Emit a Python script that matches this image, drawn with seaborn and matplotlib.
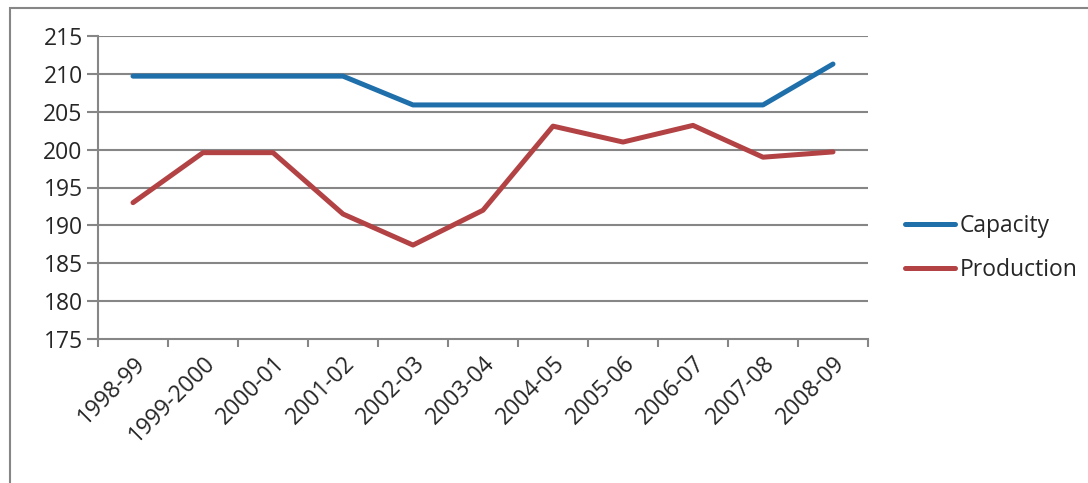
import matplotlib
matplotlib.use("Agg")

import matplotlib.pyplot as plt
import pandas as pd
import seaborn as sns
from matplotlib.patches import Rectangle

years = [
    "1998-99", "1999-2000", "2000-01", "2001-02", "2002-03", "2003-04",
    "2004-05", "2005-06", "2006-07", "2007-08", "2008-09",
]
capacity = [209.7, 209.7, 209.7, 209.7, 205.9, 205.9, 205.9, 205.9, 205.9, 205.9, 211.3]
production = [193.0, 199.6, 199.6, 191.5, 187.4, 192.0, 203.1, 201.0, 203.2, 199.0, 199.7]
y_ticks = [175, 180, 185, 190, 195, 200, 205, 210, 215]

GRID = "#868686"
COLORS = {"Capacity": "#1f6fab", "Production": "#b24244"}


def main() -> None:
    sns.set_theme(style="white")
    plt.rcParams["font.family"] = ["Open Sans", "DejaVu Sans"]

    df = pd.DataFrame({"year": years, "Capacity": capacity, "Production": production})
    df["pos"] = range(len(years))
    long = df.melt(id_vars=["year", "pos"], var_name="series", value_name="value")

    fig = plt.figure(figsize=(10.88, 4.83), dpi=100)
    ax = fig.add_axes([98 / 1088, 1 - 339 / 483, 770 / 1088, 303 / 483])

    sns.lineplot(
        data=long, x="pos", y="value", hue="series", palette=COLORS,
        linewidth=3.6, ax=ax, legend=False,
    )

    ax.set_xlim(-0.5, len(years) - 0.5)
    ax.set_ylim(175, 215)
    ax.set_yticks(y_ticks)
    ax.set_xticks(range(len(years)))
    ax.set_xticklabels(years, rotation=45, ha="right", rotation_mode="anchor", fontsize=16.5)
    ax.set_xticks([i - 0.5 for i in range(len(years) + 1)], minor=True)
    ax.tick_params(axis="x", which="major", length=0, pad=9)
    ax.tick_params(axis="x", which="minor", length=6, width=1.5, color=GRID, direction="out", bottom=True)
    ax.tick_params(axis="y", length=8, width=1.5, color=GRID, direction="out", left=True,
                   labelsize=16.5, pad=3)
    ax.set_xlabel("")
    ax.set_ylabel("")

    for v in y_ticks[1:]:
        ax.axhline(v, color=GRID, linewidth=1.5, zorder=0)
    for side in ["top", "right"]:
        ax.spines[side].set_visible(False)
    for side in ["left", "bottom"]:
        ax.spines[side].set_color(GRID)
        ax.spines[side].set_linewidth(1.5)

    # legend at the right, Excel style
    handles = [plt.Line2D([], [], color=COLORS[k], linewidth=3.6) for k in COLORS]
    fig.legend(
        handles, list(COLORS), loc="center left", bbox_to_anchor=(905 / 1088, 1 - 248 / 483),
        frameon=False, fontsize=16.5, handlelength=2.2, handletextpad=0.2, labelspacing=0.9,
        borderpad=0, borderaxespad=0,
    )

    # outer chart border (cropped at right and bottom)
    fig.patches.append(Rectangle(
        (10 / 1088, -0.1), 1.2, 1.1 - 8 / 483, transform=fig.transFigure,
        fill=False, edgecolor=GRID, linewidth=1.5,
    ))

    fig.savefig("out.png", dpi=100)
    plt.close(fig)


if __name__ == "__main__":
    main()
